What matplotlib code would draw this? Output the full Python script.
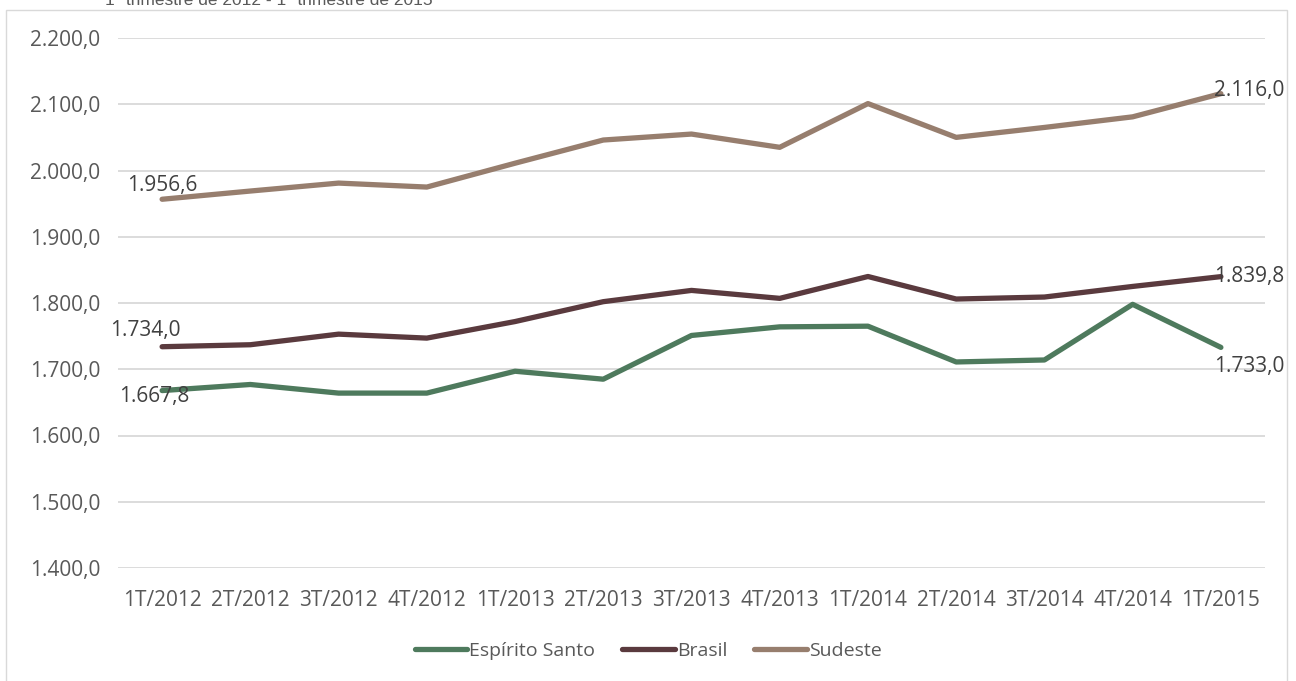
import matplotlib.pyplot as plt
from matplotlib.patches import Rectangle

# dados
trimestres = ['1T/2012', '2T/2012', '3T/2012', '4T/2012', '1T/2013', '2T/2013', '3T/2013',
              '4T/2013', '1T/2014', '2T/2014', '3T/2014', '4T/2014', '1T/2015']
espirito_santo = [1667.8, 1677, 1664, 1664, 1697, 1685, 1751, 1764, 1765, 1711, 1714, 1798, 1733.0]
brasil = [1734.0, 1737, 1753, 1747, 1772, 1802, 1819, 1807, 1840, 1806, 1809, 1825, 1839.8]
sudeste = [1956.6, 1969, 1981, 1975, 2011, 2046, 2055, 2035, 2101, 2050, 2065, 2081, 2116.0]
y_ticks = [1400, 1500, 1600, 1700, 1800, 1900, 2000, 2100, 2200]


def fmt(v):
    s = f'{v:,.1f}'
    return s.replace(',', 'X').replace('.', ',').replace('X', '.')


plt.rcParams['font.family'] = ['Open Sans', 'DejaVu Sans']

fig = plt.figure(figsize=(12.96, 6.81), dpi=100)
ax = fig.add_axes([118 / 1296, 1 - 568 / 681, (1265 - 118) / 1296, (568 - 38) / 681])

x = list(range(len(trimestres)))
series = [('Espírito Santo', espirito_santo, '#4E7A5D'),
          ('Brasil', brasil, '#5A3A3E'),
          ('Sudeste', sudeste, '#977E6E')]
for nome, vals, cor in series:
    ax.plot(x, vals, color=cor, lw=3.8, label=nome, solid_capstyle='round', zorder=3)

ax.set_xlim(-0.5, len(trimestres) - 0.5)
ax.set_ylim(1400, 2200)
ax.set_yticks(y_ticks)
ax.set_yticklabels([fmt(v) for v in y_ticks])
ax.set_xticks(x)
ax.set_xticklabels(trimestres)
ax.tick_params(length=0, labelsize=15, colors='#595959')
ax.tick_params(axis='x', pad=16)
ax.tick_params(axis='y', pad=13)
ax.grid(axis='y', color='#D9D9D9', lw=1.3)
ax.set_axisbelow(True)
for sp in ax.spines.values():
    sp.set_visible(False)

# rótulos de dados
lbl = dict(fontsize=15, color='#404040', zorder=4)
ax.annotate(fmt(sudeste[0]), (0, sudeste[0]), xytext=(0, 10), textcoords='offset points',
            ha='center', va='center', **lbl)
ax.annotate(fmt(brasil[0]), (0, brasil[0]), xytext=(-12, 12), textcoords='offset points',
            ha='center', va='center', **lbl)
ax.annotate(fmt(espirito_santo[0]), (0, espirito_santo[0]), xytext=(-6, -4), textcoords='offset points',
            ha='center', va='center', **lbl)
n = len(trimestres) - 1
ax.annotate(fmt(sudeste[n]), (n, sudeste[n]), xytext=(-5, 2), textcoords='offset points',
            ha='left', va='center', **lbl)
ax.annotate(fmt(brasil[n]), (n, brasil[n]), xytext=(-5, 0), textcoords='offset points',
            ha='left', va='center', **lbl)
ax.annotate(fmt(espirito_santo[n]), (n, espirito_santo[n]), xytext=(-5, -14), textcoords='offset points',
            ha='left', va='center', **lbl)

fig.legend(loc='center', bbox_to_anchor=(0.5, 1 - 651 / 681), ncol=3, frameon=False,
           fontsize=14, handlelength=2.7, handletextpad=0.1, columnspacing=1.4,
           labelcolor='#595959')

# título cortado e borda
fig.text(105 / 1296, 1 - 5 / 681, '1º trimestre de 2012 - 1º trimestre de 2015',
         fontsize=12.5, color='#595959', family='Liberation Sans', ha='left', va='baseline')
fig.patches.append(Rectangle((6 / 1296, -0.01), (1287 - 6) / 1296, 1 - 10 / 681 + 0.01,
                             transform=fig.transFigure, fill=False, ec='#D9D9D9', lw=1))

fig.savefig('out.png', dpi=100)
